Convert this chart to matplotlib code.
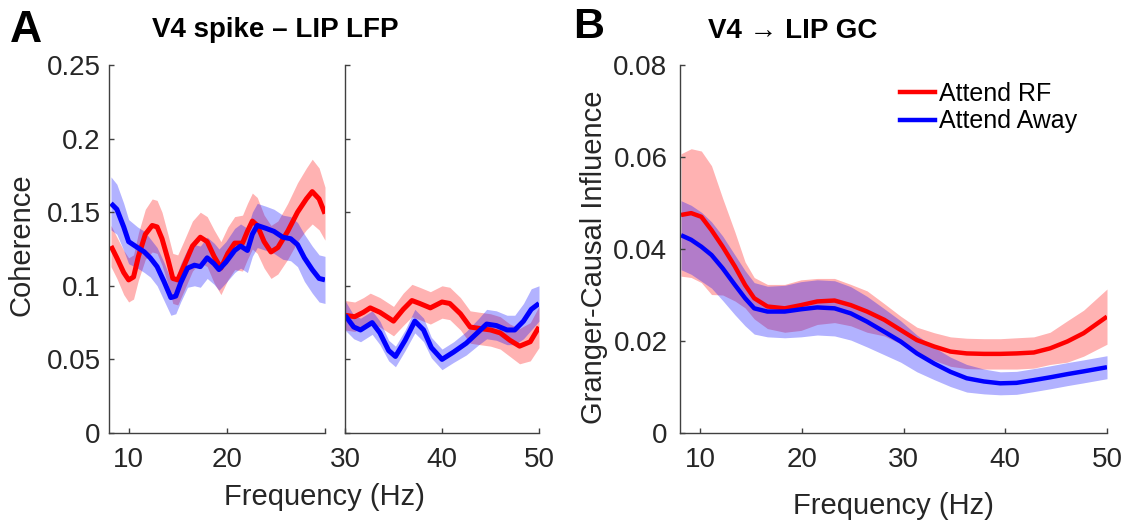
import numpy as np
import matplotlib
matplotlib.use("Agg")
import matplotlib.pyplot as plt

plt.rcParams['font.family'] = ['Liberation Sans', 'DejaVu Sans']

# ---- panel A, left part (8-30 Hz): spike-LFP coherence ----
a1_rf_f = [8.2, 8.8, 9.5, 10.0, 10.5, 11.0, 11.7, 12.4, 12.9, 13.4, 14.0, 14.5, 15.0, 15.6,
           16.5, 17.3, 18.0, 18.7, 19.4, 20.1, 20.8, 21.6, 22.1, 22.6, 23.1, 23.8, 24.5,
           25.2, 26.2, 27.2, 28.1, 28.7, 29.4, 30.0]
a1_rf = [0.127, 0.119, 0.109, 0.104, 0.106, 0.120, 0.135, 0.141, 0.140, 0.132, 0.118, 0.105,
         0.104, 0.113, 0.127, 0.133, 0.130, 0.120, 0.112, 0.122, 0.129, 0.129, 0.137, 0.144,
         0.141, 0.130, 0.123, 0.126, 0.137, 0.150, 0.159, 0.164, 0.159, 0.149]
a1_rf_err = [0.014, 0.014, 0.015, 0.015, 0.015, 0.016, 0.017, 0.018, 0.018, 0.018, 0.017, 0.017,
             0.017, 0.017, 0.017, 0.017, 0.017, 0.018, 0.018, 0.018, 0.018, 0.019, 0.019, 0.019,
             0.019, 0.018, 0.018, 0.018, 0.019, 0.020, 0.021, 0.022, 0.021, 0.018]

a1_away_f = [8.2, 8.8, 9.5, 10.0, 10.9, 11.6, 12.2, 12.9, 13.6, 14.3, 14.8, 15.3, 16.0, 16.7,
             17.3, 18.0, 18.7, 19.2, 19.9, 20.8, 21.4, 22.1, 22.6, 23.1, 24.0, 24.8, 25.7,
             26.5, 27.2, 27.9, 28.7, 29.4, 30.0]
a1_away = [0.156, 0.152, 0.140, 0.130, 0.126, 0.123, 0.119, 0.113, 0.103, 0.092, 0.093, 0.102,
           0.112, 0.114, 0.113, 0.119, 0.115, 0.111, 0.116, 0.124, 0.127, 0.124, 0.135, 0.141,
           0.139, 0.137, 0.133, 0.132, 0.128, 0.119, 0.111, 0.105, 0.104]
a1_away_err = [0.018, 0.017, 0.016, 0.015, 0.014, 0.014, 0.013, 0.013, 0.013, 0.012, 0.012, 0.013,
               0.013, 0.014, 0.014, 0.014, 0.014, 0.014, 0.014, 0.015, 0.015, 0.015, 0.015, 0.015,
               0.015, 0.015, 0.015, 0.015, 0.015, 0.016, 0.016, 0.016, 0.016]

# ---- panel A, right part (30-50 Hz) ----
a2_rf_f = [30.0, 31.0, 31.9, 32.6, 33.6, 35.0, 36.0, 36.9, 37.7, 38.8, 40.0, 40.8, 41.9,
           42.9, 43.9, 45.0, 46.0, 47.0, 48.0, 49.1, 50.0]
a2_rf = [0.080, 0.079, 0.082, 0.085, 0.082, 0.076, 0.084, 0.090, 0.088, 0.085, 0.089, 0.088,
         0.081, 0.072, 0.071, 0.070, 0.068, 0.063, 0.059, 0.062, 0.072]
a2_rf_err = [0.010, 0.010, 0.010, 0.010, 0.010, 0.010, 0.011, 0.011, 0.011, 0.011, 0.011, 0.011,
             0.011, 0.011, 0.011, 0.011, 0.011, 0.011, 0.012, 0.013, 0.014]

a2_away_f = [30.0, 30.9, 31.6, 32.8, 33.6, 34.5, 35.2, 36.2, 37.2, 38.1, 38.9, 40.0, 41.2,
             42.5, 43.8, 44.6, 45.6, 46.7, 47.5, 48.4, 49.2, 50.0]
a2_away = [0.080, 0.072, 0.070, 0.075, 0.068, 0.056, 0.052, 0.063, 0.076, 0.070, 0.058, 0.050,
           0.055, 0.061, 0.069, 0.074, 0.073, 0.070, 0.070, 0.076, 0.084, 0.088]
a2_away_err = [0.010, 0.008, 0.008, 0.008, 0.008, 0.007, 0.007, 0.007, 0.008, 0.008, 0.007, 0.007,
               0.007, 0.008, 0.009, 0.010, 0.010, 0.010, 0.010, 0.012, 0.014, 0.012]

# ---- panel B: Granger-causal influence V4 -> LIP ----
b_f = [8.1, 9.1, 10.1, 11.1, 12.2, 13.4, 14.4, 15.3, 16.6, 18.3, 19.9, 21.5, 23.2, 24.8,
       26.4, 28.1, 29.7, 31.3, 33.0, 34.6, 36.2, 37.9, 39.5, 41.1, 42.8, 44.4, 46.1, 47.7, 50.0]
b_rf = [0.0474, 0.0478, 0.0470, 0.0441, 0.0405, 0.0362, 0.0322, 0.0293, 0.0275, 0.0271,
        0.0278, 0.0286, 0.0288, 0.0278, 0.0264, 0.0246, 0.0224, 0.0202, 0.0188, 0.0177,
        0.0173, 0.0172, 0.0172, 0.0173, 0.0175, 0.0184, 0.0199, 0.0217, 0.0253]
b_rf_err = [0.0133, 0.0140, 0.0143, 0.0140, 0.0105, 0.0075, 0.0050, 0.0045, 0.0048, 0.0052,
            0.0055, 0.0050, 0.0048, 0.0045, 0.0045, 0.0035, 0.0030, 0.0028, 0.0030, 0.0032,
            0.0033, 0.0033, 0.0033, 0.0034, 0.0034, 0.0035, 0.0045, 0.0050, 0.0060]
b_away = [0.0430, 0.0420, 0.0405, 0.0387, 0.0358, 0.0322, 0.0293, 0.0271, 0.0264, 0.0264,
          0.0269, 0.0273, 0.0271, 0.0260, 0.0242, 0.0220, 0.0199, 0.0173, 0.0151, 0.0133,
          0.0119, 0.0112, 0.0108, 0.0109, 0.0115, 0.0121, 0.0128, 0.0134, 0.0143]
b_away_err = [0.0075, 0.0075, 0.0075, 0.0072, 0.0070, 0.0065, 0.0060, 0.0056, 0.0055, 0.0057,
              0.0060, 0.0060, 0.0060, 0.0058, 0.0055, 0.0050, 0.0045, 0.0040, 0.0035, 0.0032,
              0.0030, 0.0027, 0.0025, 0.0025, 0.0025, 0.0025, 0.0025, 0.0025, 0.0025]

labels = ['Attend RF', 'Attend Away']
RED = '#ff0000'
BLUE = '#0000ff'
TICK_C = '#262626'
SPINE_C = '#404040'

W, H = 1127, 522
fig = plt.figure(figsize=(W / 100, H / 100), dpi=100)


def px_axes(left, right, top, bottom):
    return fig.add_axes([left / W, 1 - bottom / H, (right - left) / W, (bottom - top) / H])


def style(ax):
    for s in ['top', 'right']:
        ax.spines[s].set_visible(False)
    for s in ['left', 'bottom']:
        ax.spines[s].set_color(SPINE_C)
        ax.spines[s].set_linewidth(1.0)
    ax.tick_params(direction='in', length=3.5, width=1, color=SPINE_C,
                   labelsize=20, labelcolor=TICK_C)
    ax.tick_params(axis='x', pad=10)
    ax.tick_params(axis='y', pad=6)


def fill(ax, f, m, e, color):
    f, m, e = np.array(f), np.array(m), np.array(e)
    ax.fill_between(f, m - e, m + e, color=color, alpha=0.3, linewidth=0)


def line(ax, f, m, color, lw):
    ax.plot(f, m, color=color, linewidth=lw, solid_capstyle='butt')


ax1 = px_axes(109, 325, 65, 433)
fill(ax1, a1_rf_f, a1_rf, a1_rf_err, RED)
fill(ax1, a1_away_f, a1_away, a1_away_err, BLUE)
line(ax1, a1_rf_f, a1_rf, RED, 3.6)
line(ax1, a1_away_f, a1_away, BLUE, 3.6)
ax1.set_xlim(8, 30)
ax1.set_ylim(0, 0.25)
ax1.set_xticks([10, 20, 30])
ax1.set_xticklabels(['10', '20', ''])
ax1.set_yticks([0, 0.05, 0.1, 0.15, 0.2, 0.25])
ax1.set_yticklabels(['0', '0.05', '0.1', '0.15', '0.2', '0.25'])
style(ax1)

ax2 = px_axes(345, 539, 65, 433)
fill(ax2, a2_rf_f, a2_rf, a2_rf_err, RED)
fill(ax2, a2_away_f, a2_away, a2_away_err, BLUE)
line(ax2, a2_rf_f, a2_rf, RED, 3.6)
line(ax2, a2_away_f, a2_away, BLUE, 3.6)
ax2.set_xlim(30, 50)
ax2.set_ylim(0, 0.25)
ax2.set_xticks([30, 40, 50])
ax2.set_yticks([0, 0.05, 0.1, 0.15, 0.2, 0.25])
ax2.set_yticklabels([])
style(ax2)

# in B the blue band sits over the red line
ax3 = px_axes(680, 1107, 65, 433)
fill(ax3, b_f, b_rf, b_rf_err, RED)
line(ax3, b_f, b_rf, RED, 3.2)
fill(ax3, b_f, b_away, b_away_err, BLUE)
line(ax3, b_f, b_away, BLUE, 3.2)
ax3.set_xlim(8, 50)
ax3.set_ylim(0, 0.08)
ax3.set_xticks([10, 20, 30, 40, 50])
ax3.set_yticks([0, 0.02, 0.04, 0.06, 0.08])
ax3.set_yticklabels(['0', '0.02', '0.04', '0.06', '0.08'])
style(ax3)
ax3.tick_params(axis='y', pad=9)

handles = [plt.Line2D([], [], color=RED, linewidth=3.2),
           plt.Line2D([], [], color=BLUE, linewidth=3.2)]
ax3.legend(handles, labels, loc='upper left', bbox_to_anchor=(0.515, 0.955),
           frameon=False, fontsize=18, handlelength=1.4, handletextpad=0.15,
           labelspacing=0.15, borderpad=0, borderaxespad=0)

# labels and titles
fig.text(324 / W, 1 - 505 / H, 'Frequency (Hz)', ha='center', va='baseline',
         fontsize=21, color=TICK_C)
fig.text(893 / W, 1 - 514 / H, 'Frequency (Hz)', ha='center', va='baseline',
         fontsize=21, color=TICK_C)
fig.text(22 / W, 1 - 245 / H, 'Coherence', rotation=90, ha='center', va='center',
         fontsize=21, color=TICK_C)
fig.text(594 / W, 1 - 257 / H, 'Granger-Causal Influence', rotation=90, ha='center',
         va='center', fontsize=21, color=TICK_C)

fig.text(10 / W, 1 - 42 / H, 'A', fontsize=32, fontweight='bold', ha='left', va='baseline')
fig.text(573 / W, 1 - 38 / H, 'B', fontsize=31, fontweight='bold', ha='left', va='baseline')
fig.text(152 / W, 1 - 37 / H, 'V4 spike \u2013 LIP LFP', fontsize=20, fontweight='bold',
         ha='left', va='baseline')
fig.text(708 / W, 1 - 38 / H, 'V4 \u2192 LIP GC', fontsize=20, fontweight='bold',
         ha='left', va='baseline')

fig.savefig('out.png', dpi=100)
